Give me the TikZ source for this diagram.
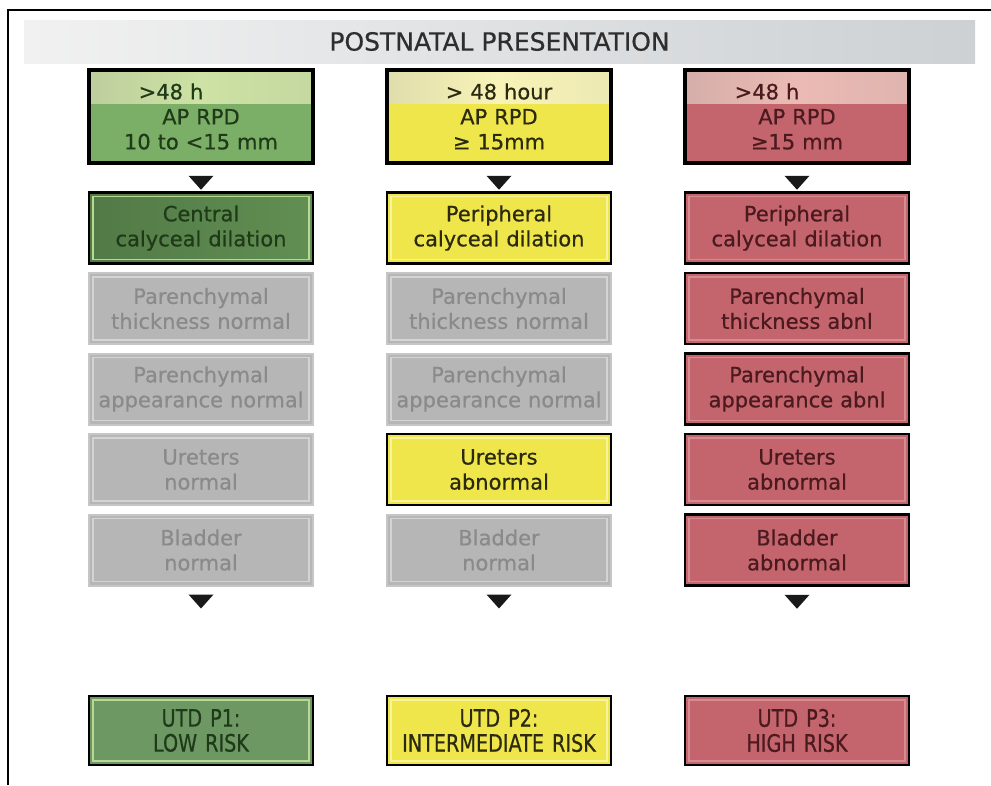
\documentclass[tikz,border=0pt]{standalone}
\usepackage{fontspec}
\setmainfont[FakeBold=0.6]{DejaVu Sans}
\newfontfamily\narrowfont[FakeStretch=0.8,FakeBold=0.6]{DejaVu Sans}
\usepackage{xcolor}
\usepackage{tikz}
\usetikzlibrary{positioning,calc}
\definecolor{titleleft}{HTML}{F1F1F1}
\definecolor{titleright}{HTML}{CDD1D4}
\definecolor{titletext}{HTML}{2E2E2E}
\definecolor{greenfill}{HTML}{7BAE66}
\definecolor{greendark}{HTML}{5B874E}
\definecolor{greenrisk}{HTML}{6E9863}
\definecolor{greenstrip}{HTML}{CDE2A4}
\definecolor{greenrim}{HTML}{B9D893}
\definecolor{greentext}{HTML}{1F3A18}
\definecolor{yellowfill}{HTML}{EFE64C}
\definecolor{yellowstrip}{HTML}{F8F4B8}
\definecolor{yellowrim}{HTML}{F8F29A}
\definecolor{yellowtext}{HTML}{2B2A10}
\definecolor{redfill}{HTML}{C4646D}
\definecolor{redstrip}{HTML}{EBBAB4}
\definecolor{redrim}{HTML}{D68A91}
\definecolor{redtext}{HTML}{4A1A1F}
\definecolor{greyfill}{HTML}{B6B6B6}
\definecolor{greyline}{HTML}{C6C6C6}
\definecolor{greyrim}{HTML}{D4D4D4}
\definecolor{greytext}{HTML}{8A8A8A}
\tikzset{
  rim/.style={path picture={\draw[#1,line width=1.5pt]([shift={(4pt,-4pt)}]path picture bounding box.north west) rectangle ([shift={(-4pt,4pt)}]path picture bounding box.south east);}},
  strip/.style={path picture={\shade[left color=#1!80!gray,right color=#1!90!gray,middle color=#1](path picture bounding box.north west) rectangle ([yshift=-33pt]path picture bounding box.north east);}}
}

\begin{document}
\begin{tikzpicture}[x=1pt,y=1pt,node distance=80.5pt,on grid]
    \useasboundingbox (0,0) rectangle (991,-785);
    \tikzstyle{title_bar}=[minimum width=951pt,minimum height=43pt,left color=titleleft,right color=titleright,text=titletext,font=\fontsize{25}{28}\selectfont]
    \tikzstyle{flow_box}=[draw=black,line width=2.5pt,minimum width=224pt,minimum height=71pt,text width=214pt,align=center,inner sep=0pt,font=\fontsize{21}{25}\selectfont]
    \tikzstyle{head_box}=[flow_box,line width=3.5pt,minimum height=93pt]
    \tikzstyle{risk_box}=[flow_box,minimum height=69pt,font=\narrowfont\fontsize{24}{25}\selectfont]
    \tikzstyle{grey_box}=[flow_box,draw=greyline,line width=2pt,fill=greyfill,text=greytext,rim=greyrim]
    \tikzstyle{green_box}=[flow_box,text=greentext,rim=greenrim]
    \tikzstyle{yellow_box}=[flow_box,fill=yellowfill,text=yellowtext,rim=yellowrim]
    \tikzstyle{red_box}=[flow_box,fill=redfill,text=redtext,rim=redrim]

    \draw[line width=1.5pt] (8,-785) -- (8,-10) -- (991,-10);
    \node[title_bar] (title) at (499.5,-41.5) {POSTNATAL PRESENTATION};

    \node[head_box,fill=greenfill,text=greentext,strip=greenstrip] (head_low) at (201,-116.5) {\hspace*{-60pt}>48 h\\AP RPD\\10 to <15 mm};
    \node[green_box,left color=greendark!90!black,right color=greendark!80!greenfill] (dil_low) [below=111.5pt of head_low] {Central\\calyceal dilation};
    \node[grey_box] (thick_low) [below=of dil_low] {Parenchymal\\thickness normal};
    \node[grey_box] (app_low) [below=of thick_low] {Parenchymal\\appearance normal};
    \node[grey_box] (ure_low) [below=of app_low] {Ureters\\normal};
    \node[grey_box] (bla_low) [below=of ure_low] {Bladder\\normal};
    \node[green_box,risk_box,fill=greenrisk] (risk_low) [below=180.5pt of bla_low] {UTD P1:\\LOW RISK};

    \node[head_box,fill=yellowfill,text=yellowtext,strip=yellowstrip] (head_mid) at (499,-116.5) {> 48 hour\\AP RPD\\≥ 15mm};
    \node[yellow_box] (dil_mid) [below=111.5pt of head_mid] {Peripheral\\calyceal dilation};
    \node[grey_box] (thick_mid) [below=of dil_mid] {Parenchymal\\thickness normal};
    \node[grey_box] (app_mid) [below=of thick_mid] {Parenchymal\\appearance normal};
    \node[yellow_box] (ure_mid) [below=of app_mid] {Ureters\\abnormal};
    \node[grey_box] (bla_mid) [below=of ure_mid] {Bladder\\normal};
    \node[yellow_box,risk_box] (risk_mid) [below=180.5pt of bla_mid] {UTD P2:\\INTERMEDIATE RISK};

    \node[head_box,fill=redfill,text=redtext,strip=redstrip] (head_high) at (797,-116.5) {\hspace*{-60pt}>48 h\\AP RPD\\≥15 mm};
    \node[red_box] (dil_high) [below=111.5pt of head_high] {Peripheral\\calyceal dilation};
    \node[red_box] (thick_high) [below=of dil_high] {Parenchymal\\thickness abnl};
    \node[red_box] (app_high) [below=of thick_high] {Parenchymal\\appearance abnl};
    \node[red_box] (ure_high) [below=of app_high] {Ureters\\abnormal};
    \node[red_box] (bla_high) [below=of ure_high] {Bladder\\abnormal};
    \node[red_box,risk_box] (risk_high) [below=180.5pt of bla_high] {UTD P3:\\HIGH RISK};

    \foreach \from/\to/\gap in {head_low/dil_low/18,head_mid/dil_mid/18,head_high/dil_high/18,bla_low/risk_low/15,bla_mid/risk_mid/15,bla_high/risk_high/15}
        \fill[black!90] ($(\from.south)!\gap pt!(\to.north)$) +(-12.5,7) -- +(12.5,7) -- +(0,-7) -- cycle;
\end{tikzpicture}
\end{document}
